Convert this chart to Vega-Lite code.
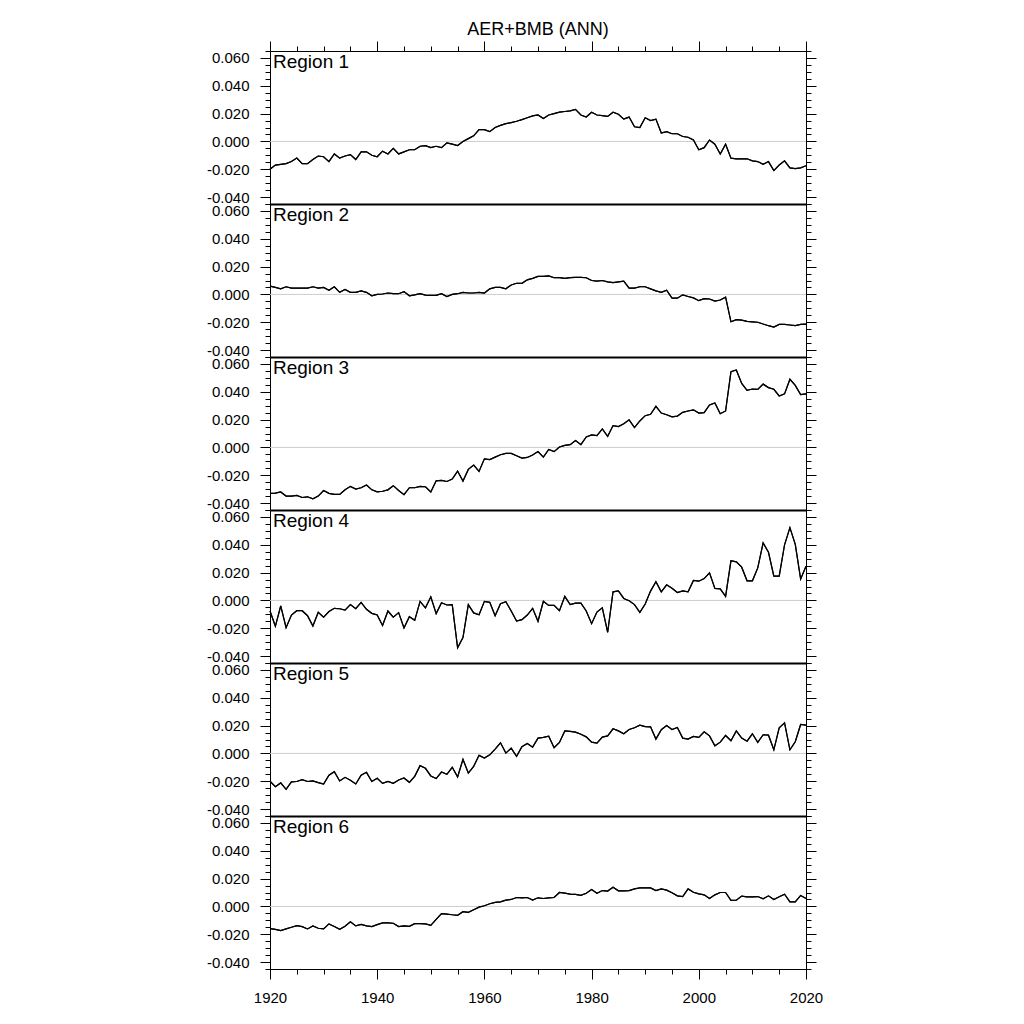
{
"$schema":"https://vega.github.io/schema/vega-lite/v6.json",
"padding":{"left":205,"top":20,"right":0,"bottom":0},
"spacing":0,
"bounds":"flush",
"config":{"font":"Liberation Sans","view":{"stroke":"#000","strokeWidth":1},"axis":{"grid":false,"tickColor":"#000","domainColor":"#000","labelColor":"#000","labelFont":"Liberation Sans","labelFontSize":15,"tickWidth":1,"title":null,"labelFlush":false,"labelOverlap":false,"labelBound":false}},
"datasets":{
"zero":[{"z":0}],
"r1":[{"year":1920,"value":-0.02},{"year":1921,"value":-0.017},{"year":1922,"value":-0.0165},{"year":1923,"value":-0.016},{"year":1924,"value":-0.0145},{"year":1925,"value":-0.012},{"year":1926,"value":-0.016},{"year":1927,"value":-0.016},{"year":1928,"value":-0.013},{"year":1929,"value":-0.0105},{"year":1930,"value":-0.011},{"year":1931,"value":-0.0145},{"year":1932,"value":-0.009},{"year":1933,"value":-0.012},{"year":1934,"value":-0.0105},{"year":1935,"value":-0.0095},{"year":1936,"value":-0.013},{"year":1937,"value":-0.0075},{"year":1938,"value":-0.0075},{"year":1939,"value":-0.01},{"year":1940,"value":-0.011},{"year":1941,"value":-0.007},{"year":1942,"value":-0.009},{"year":1943,"value":-0.005},{"year":1944,"value":-0.009},{"year":1945,"value":-0.0075},{"year":1946,"value":-0.006},{"year":1947,"value":-0.006},{"year":1948,"value":-0.0035},{"year":1949,"value":-0.003},{"year":1950,"value":-0.0045},{"year":1951,"value":-0.0035},{"year":1952,"value":-0.0045},{"year":1953,"value":-0.001},{"year":1954,"value":-0.002},{"year":1955,"value":-0.003},{"year":1956,"value":0.0},{"year":1957,"value":0.002},{"year":1958,"value":0.004},{"year":1959,"value":0.0085},{"year":1960,"value":0.0085},{"year":1961,"value":0.007},{"year":1962,"value":0.01},{"year":1963,"value":0.0115},{"year":1964,"value":0.0128},{"year":1965,"value":0.0135},{"year":1966,"value":0.0145},{"year":1967,"value":0.0157},{"year":1968,"value":0.017},{"year":1969,"value":0.0183},{"year":1970,"value":0.019},{"year":1971,"value":0.0165},{"year":1972,"value":0.019},{"year":1973,"value":0.02},{"year":1974,"value":0.021},{"year":1975,"value":0.0215},{"year":1976,"value":0.022},{"year":1977,"value":0.023},{"year":1978,"value":0.019},{"year":1979,"value":0.0175},{"year":1980,"value":0.021},{"year":1981,"value":0.019},{"year":1982,"value":0.0185},{"year":1983,"value":0.018},{"year":1984,"value":0.021},{"year":1985,"value":0.0195},{"year":1986,"value":0.016},{"year":1987,"value":0.0175},{"year":1988,"value":0.0105},{"year":1989,"value":0.01},{"year":1990,"value":0.017},{"year":1991,"value":0.015},{"year":1992,"value":0.016},{"year":1993,"value":0.006},{"year":1994,"value":0.007},{"year":1995,"value":0.0055},{"year":1996,"value":0.0055},{"year":1997,"value":0.0035},{"year":1998,"value":0.003},{"year":1999,"value":0.001},{"year":2000,"value":-0.006},{"year":2001,"value":-0.0045},{"year":2002,"value":0.001},{"year":2003,"value":-0.002},{"year":2004,"value":-0.009},{"year":2005,"value":-0.002},{"year":2006,"value":-0.012},{"year":2007,"value":-0.0125},{"year":2008,"value":-0.0125},{"year":2009,"value":-0.0125},{"year":2010,"value":-0.014},{"year":2011,"value":-0.0145},{"year":2012,"value":-0.0165},{"year":2013,"value":-0.0145},{"year":2014,"value":-0.021},{"year":2015,"value":-0.017},{"year":2016,"value":-0.014},{"year":2017,"value":-0.019},{"year":2018,"value":-0.0195},{"year":2019,"value":-0.019},{"year":2020,"value":-0.0175}],
"r2":[{"year":1920,"value":0.006},{"year":1921,"value":0.005},{"year":1922,"value":0.004},{"year":1923,"value":0.0055},{"year":1924,"value":0.0045},{"year":1925,"value":0.0045},{"year":1926,"value":0.0045},{"year":1927,"value":0.0045},{"year":1928,"value":0.0055},{"year":1929,"value":0.0045},{"year":1930,"value":0.005},{"year":1931,"value":0.003},{"year":1932,"value":0.0055},{"year":1933,"value":0.0015},{"year":1934,"value":0.0035},{"year":1935,"value":0.0015},{"year":1936,"value":0.0015},{"year":1937,"value":0.0025},{"year":1938,"value":0.0015},{"year":1939,"value":-0.001},{"year":1940,"value":0.0},{"year":1941,"value":0.0003},{"year":1942,"value":0.001},{"year":1943,"value":0.0005},{"year":1944,"value":0.0005},{"year":1945,"value":0.002},{"year":1946,"value":-0.001},{"year":1947,"value":-0.0003},{"year":1948,"value":0.0005},{"year":1949,"value":-0.0005},{"year":1950,"value":-0.0007},{"year":1951,"value":-0.0007},{"year":1952,"value":0.0005},{"year":1953,"value":-0.0015},{"year":1954,"value":0.0},{"year":1955,"value":0.0005},{"year":1956,"value":0.0015},{"year":1957,"value":0.001},{"year":1958,"value":0.001},{"year":1959,"value":0.0015},{"year":1960,"value":0.001},{"year":1961,"value":0.004},{"year":1962,"value":0.005},{"year":1963,"value":0.005},{"year":1964,"value":0.004},{"year":1965,"value":0.0068},{"year":1966,"value":0.008},{"year":1967,"value":0.008},{"year":1968,"value":0.0105},{"year":1969,"value":0.0115},{"year":1970,"value":0.013},{"year":1971,"value":0.013},{"year":1972,"value":0.0133},{"year":1973,"value":0.012},{"year":1974,"value":0.012},{"year":1975,"value":0.0115},{"year":1976,"value":0.012},{"year":1977,"value":0.0123},{"year":1978,"value":0.0123},{"year":1979,"value":0.012},{"year":1980,"value":0.01},{"year":1981,"value":0.0095},{"year":1982,"value":0.01},{"year":1983,"value":0.009},{"year":1984,"value":0.0085},{"year":1985,"value":0.009},{"year":1986,"value":0.0095},{"year":1987,"value":0.0045},{"year":1988,"value":0.0045},{"year":1989,"value":0.0055},{"year":1990,"value":0.0055},{"year":1991,"value":0.004},{"year":1992,"value":0.0025},{"year":1993,"value":0.0015},{"year":1994,"value":0.003},{"year":1995,"value":-0.0027},{"year":1996,"value":-0.0027},{"year":1997,"value":-0.0003},{"year":1998,"value":-0.0015},{"year":1999,"value":-0.0025},{"year":2000,"value":-0.0045},{"year":2001,"value":-0.003},{"year":2002,"value":-0.0033},{"year":2003,"value":-0.0048},{"year":2004,"value":-0.004},{"year":2005,"value":-0.002},{"year":2006,"value":-0.0197},{"year":2007,"value":-0.0182},{"year":2008,"value":-0.0185},{"year":2009,"value":-0.0194},{"year":2010,"value":-0.0197},{"year":2011,"value":-0.02},{"year":2012,"value":-0.0213},{"year":2013,"value":-0.0225},{"year":2014,"value":-0.0235},{"year":2015,"value":-0.0216},{"year":2016,"value":-0.0216},{"year":2017,"value":-0.022},{"year":2018,"value":-0.0225},{"year":2019,"value":-0.0216},{"year":2020,"value":-0.0213}],
"r3":[{"year":1920,"value":-0.033},{"year":1921,"value":-0.0328},{"year":1922,"value":-0.032},{"year":1923,"value":-0.035},{"year":1924,"value":-0.035},{"year":1925,"value":-0.0345},{"year":1926,"value":-0.036},{"year":1927,"value":-0.0355},{"year":1928,"value":-0.037},{"year":1929,"value":-0.035},{"year":1930,"value":-0.031},{"year":1931,"value":-0.033},{"year":1932,"value":-0.0338},{"year":1933,"value":-0.0338},{"year":1934,"value":-0.0305},{"year":1935,"value":-0.028},{"year":1936,"value":-0.03},{"year":1937,"value":-0.029},{"year":1938,"value":-0.027},{"year":1939,"value":-0.0305},{"year":1940,"value":-0.032},{"year":1941,"value":-0.0315},{"year":1942,"value":-0.0305},{"year":1943,"value":-0.0275},{"year":1944,"value":-0.031},{"year":1945,"value":-0.034},{"year":1946,"value":-0.029},{"year":1947,"value":-0.029},{"year":1948,"value":-0.028},{"year":1949,"value":-0.0283},{"year":1950,"value":-0.032},{"year":1951,"value":-0.024},{"year":1952,"value":-0.0237},{"year":1953,"value":-0.0245},{"year":1954,"value":-0.0227},{"year":1955,"value":-0.017},{"year":1956,"value":-0.0242},{"year":1957,"value":-0.0158},{"year":1958,"value":-0.0127},{"year":1959,"value":-0.0173},{"year":1960,"value":-0.0082},{"year":1961,"value":-0.0087},{"year":1962,"value":-0.007},{"year":1963,"value":-0.0053},{"year":1964,"value":-0.0043},{"year":1965,"value":-0.0043},{"year":1966,"value":-0.006},{"year":1967,"value":-0.0077},{"year":1968,"value":-0.0072},{"year":1969,"value":-0.0055},{"year":1970,"value":-0.003},{"year":1971,"value":-0.007},{"year":1972,"value":-0.0015},{"year":1973,"value":-0.003},{"year":1974,"value":0.0003},{"year":1975,"value":0.0015},{"year":1976,"value":0.002},{"year":1977,"value":0.005},{"year":1978,"value":0.002},{"year":1979,"value":0.0075},{"year":1980,"value":0.009},{"year":1981,"value":0.0085},{"year":1982,"value":0.0133},{"year":1983,"value":0.008},{"year":1984,"value":0.0157},{"year":1985,"value":0.015},{"year":1986,"value":0.017},{"year":1987,"value":0.0198},{"year":1988,"value":0.0143},{"year":1989,"value":0.019},{"year":1990,"value":0.0228},{"year":1991,"value":0.0238},{"year":1992,"value":0.0295},{"year":1993,"value":0.0247},{"year":1994,"value":0.0235},{"year":1995,"value":0.022},{"year":1996,"value":0.0225},{"year":1997,"value":0.0252},{"year":1998,"value":0.0262},{"year":1999,"value":0.027},{"year":2000,"value":0.0247},{"year":2001,"value":0.025},{"year":2002,"value":0.0305},{"year":2003,"value":0.032},{"year":2004,"value":0.0242},{"year":2005,"value":0.0262},{"year":2006,"value":0.0545},{"year":2007,"value":0.0557},{"year":2008,"value":0.046},{"year":2009,"value":0.041},{"year":2010,"value":0.042},{"year":2011,"value":0.0417},{"year":2012,"value":0.0455},{"year":2013,"value":0.043},{"year":2014,"value":0.0418},{"year":2015,"value":0.037},{"year":2016,"value":0.0385},{"year":2017,"value":0.049},{"year":2018,"value":0.0446},{"year":2019,"value":0.038},{"year":2020,"value":0.0385}],
"r4":[{"year":1920,"value":-0.0076},{"year":1921,"value":-0.0186},{"year":1922,"value":-0.004},{"year":1923,"value":-0.0196},{"year":1924,"value":-0.0105},{"year":1925,"value":-0.0074},{"year":1926,"value":-0.0074},{"year":1927,"value":-0.011},{"year":1928,"value":-0.0184},{"year":1929,"value":-0.0086},{"year":1930,"value":-0.012},{"year":1931,"value":-0.008},{"year":1932,"value":-0.0057},{"year":1933,"value":-0.006},{"year":1934,"value":-0.007},{"year":1935,"value":-0.003},{"year":1936,"value":-0.006},{"year":1937,"value":-0.0014},{"year":1938,"value":-0.0064},{"year":1939,"value":-0.0093},{"year":1940,"value":-0.0105},{"year":1941,"value":-0.018},{"year":1942,"value":-0.0076},{"year":1943,"value":-0.012},{"year":1944,"value":-0.0088},{"year":1945,"value":-0.0198},{"year":1946,"value":-0.0117},{"year":1947,"value":-0.0143},{"year":1948,"value":-0.0007},{"year":1949,"value":-0.0053},{"year":1950,"value":0.0026},{"year":1951,"value":-0.0095},{"year":1952,"value":-0.0017},{"year":1953,"value":-0.0033},{"year":1954,"value":-0.003},{"year":1955,"value":-0.034},{"year":1956,"value":-0.0267},{"year":1957,"value":-0.003},{"year":1958,"value":-0.009},{"year":1959,"value":-0.0103},{"year":1960,"value":-0.0007},{"year":1961,"value":-0.0014},{"year":1962,"value":-0.011},{"year":1963,"value":-0.0024},{"year":1964,"value":-0.001},{"year":1965,"value":-0.0076},{"year":1966,"value":-0.0148},{"year":1967,"value":-0.0138},{"year":1968,"value":-0.0105},{"year":1969,"value":-0.0057},{"year":1970,"value":-0.015},{"year":1971,"value":-0.0007},{"year":1972,"value":-0.0036},{"year":1973,"value":-0.0036},{"year":1974,"value":-0.0074},{"year":1975,"value":0.0029},{"year":1976,"value":-0.003},{"year":1977,"value":-0.0019},{"year":1978,"value":-0.0019},{"year":1979,"value":-0.0076},{"year":1980,"value":-0.0167},{"year":1981,"value":-0.0084},{"year":1982,"value":-0.0053},{"year":1983,"value":-0.0229},{"year":1984,"value":0.0062},{"year":1985,"value":0.0069},{"year":1986,"value":0.0014},{"year":1987,"value":-0.0002},{"year":1988,"value":-0.003},{"year":1989,"value":-0.0086},{"year":1990,"value":-0.0026},{"year":1991,"value":0.0067},{"year":1992,"value":0.0134},{"year":1993,"value":0.0062},{"year":1994,"value":0.0112},{"year":1995,"value":0.0088},{"year":1996,"value":0.0057},{"year":1997,"value":0.0069},{"year":1998,"value":0.0062},{"year":1999,"value":0.0143},{"year":2000,"value":0.0138},{"year":2001,"value":0.0157},{"year":2002,"value":0.0198},{"year":2003,"value":0.0086},{"year":2004,"value":0.0083},{"year":2005,"value":0.0029},{"year":2006,"value":0.0286},{"year":2007,"value":0.0277},{"year":2008,"value":0.0239},{"year":2009,"value":0.0141},{"year":2010,"value":0.0141},{"year":2011,"value":0.0234},{"year":2012,"value":0.0413},{"year":2013,"value":0.0346},{"year":2014,"value":0.0174},{"year":2015,"value":0.0174},{"year":2016,"value":0.04},{"year":2017,"value":0.0523},{"year":2018,"value":0.0403},{"year":2019,"value":0.0153},{"year":2020,"value":0.0246}],
"r5":[{"year":1920,"value":-0.02},{"year":1921,"value":-0.024},{"year":1922,"value":-0.0212},{"year":1923,"value":-0.0258},{"year":1924,"value":-0.0205},{"year":1925,"value":-0.0202},{"year":1926,"value":-0.0189},{"year":1927,"value":-0.0202},{"year":1928,"value":-0.0198},{"year":1929,"value":-0.021},{"year":1930,"value":-0.022},{"year":1931,"value":-0.0157},{"year":1932,"value":-0.0131},{"year":1933,"value":-0.0198},{"year":1934,"value":-0.0172},{"year":1935,"value":-0.0193},{"year":1936,"value":-0.022},{"year":1937,"value":-0.0157},{"year":1938,"value":-0.0136},{"year":1939,"value":-0.0202},{"year":1940,"value":-0.0179},{"year":1941,"value":-0.0215},{"year":1942,"value":-0.0202},{"year":1943,"value":-0.0215},{"year":1944,"value":-0.0191},{"year":1945,"value":-0.0177},{"year":1946,"value":-0.0208},{"year":1947,"value":-0.0165},{"year":1948,"value":-0.0088},{"year":1949,"value":-0.0107},{"year":1950,"value":-0.0162},{"year":1951,"value":-0.0181},{"year":1952,"value":-0.0134},{"year":1953,"value":-0.015},{"year":1954,"value":-0.01},{"year":1955,"value":-0.0169},{"year":1956,"value":-0.0043},{"year":1957,"value":-0.0141},{"year":1958,"value":-0.0093},{"year":1959,"value":-0.0014},{"year":1960,"value":-0.0033},{"year":1961,"value":-0.001},{"year":1962,"value":0.0031},{"year":1963,"value":0.0076},{"year":1964,"value":0.0002},{"year":1965,"value":0.0038},{"year":1966,"value":-0.0021},{"year":1967,"value":0.0048},{"year":1968,"value":0.0072},{"year":1969,"value":0.0045},{"year":1970,"value":0.011},{"year":1971,"value":0.0115},{"year":1972,"value":0.0124},{"year":1973,"value":0.0041},{"year":1974,"value":0.0079},{"year":1975,"value":0.0162},{"year":1976,"value":0.0158},{"year":1977,"value":0.0153},{"year":1978,"value":0.0138},{"year":1979,"value":0.0119},{"year":1980,"value":0.0081},{"year":1981,"value":0.0074},{"year":1982,"value":0.0117},{"year":1983,"value":0.0126},{"year":1984,"value":0.0177},{"year":1985,"value":0.0162},{"year":1986,"value":0.0141},{"year":1987,"value":0.0172},{"year":1988,"value":0.0184},{"year":1989,"value":0.0203},{"year":1990,"value":0.0193},{"year":1991,"value":0.0191},{"year":1992,"value":0.0103},{"year":1993,"value":0.017},{"year":1994,"value":0.02},{"year":1995,"value":0.0172},{"year":1996,"value":0.0186},{"year":1997,"value":0.011},{"year":1998,"value":0.0103},{"year":1999,"value":0.0122},{"year":2000,"value":0.0115},{"year":2001,"value":0.0155},{"year":2002,"value":0.0126},{"year":2003,"value":0.0055},{"year":2004,"value":0.0081},{"year":2005,"value":0.0129},{"year":2006,"value":0.0091},{"year":2007,"value":0.0162},{"year":2008,"value":0.011},{"year":2009,"value":0.0088},{"year":2010,"value":0.0141},{"year":2011,"value":0.0079},{"year":2012,"value":0.0134},{"year":2013,"value":0.0131},{"year":2014,"value":0.0026},{"year":2015,"value":0.0184},{"year":2016,"value":0.022},{"year":2017,"value":0.0026},{"year":2018,"value":0.0084},{"year":2019,"value":0.0208},{"year":2020,"value":0.0203}],
"r6":[{"year":1920,"value":-0.016},{"year":1921,"value":-0.0165},{"year":1922,"value":-0.0174},{"year":1923,"value":-0.0162},{"year":1924,"value":-0.015},{"year":1925,"value":-0.0138},{"year":1926,"value":-0.0145},{"year":1927,"value":-0.0162},{"year":1928,"value":-0.014},{"year":1929,"value":-0.0157},{"year":1930,"value":-0.0162},{"year":1931,"value":-0.0126},{"year":1932,"value":-0.0145},{"year":1933,"value":-0.0164},{"year":1934,"value":-0.0143},{"year":1935,"value":-0.011},{"year":1936,"value":-0.014},{"year":1937,"value":-0.0129},{"year":1938,"value":-0.014},{"year":1939,"value":-0.0145},{"year":1940,"value":-0.0131},{"year":1941,"value":-0.0119},{"year":1942,"value":-0.0119},{"year":1943,"value":-0.0121},{"year":1944,"value":-0.0145},{"year":1945,"value":-0.014},{"year":1946,"value":-0.0143},{"year":1947,"value":-0.0124},{"year":1948,"value":-0.0124},{"year":1949,"value":-0.0126},{"year":1950,"value":-0.0136},{"year":1951,"value":-0.0093},{"year":1952,"value":-0.0052},{"year":1953,"value":-0.0055},{"year":1954,"value":-0.006},{"year":1955,"value":-0.0064},{"year":1956,"value":-0.0038},{"year":1957,"value":-0.0043},{"year":1958,"value":-0.0024},{"year":1959,"value":-0.0005},{"year":1960,"value":0.0005},{"year":1961,"value":0.0019},{"year":1962,"value":0.0029},{"year":1963,"value":0.0033},{"year":1964,"value":0.0045},{"year":1965,"value":0.005},{"year":1966,"value":0.0064},{"year":1967,"value":0.0062},{"year":1968,"value":0.0064},{"year":1969,"value":0.0045},{"year":1970,"value":0.0062},{"year":1971,"value":0.0057},{"year":1972,"value":0.0062},{"year":1973,"value":0.0064},{"year":1974,"value":0.01},{"year":1975,"value":0.0095},{"year":1976,"value":0.0088},{"year":1977,"value":0.0086},{"year":1978,"value":0.0079},{"year":1979,"value":0.0095},{"year":1980,"value":0.0121},{"year":1981,"value":0.0095},{"year":1982,"value":0.0114},{"year":1983,"value":0.011},{"year":1984,"value":0.0138},{"year":1985,"value":0.0112},{"year":1986,"value":0.0112},{"year":1987,"value":0.0114},{"year":1988,"value":0.0126},{"year":1989,"value":0.0133},{"year":1990,"value":0.0133},{"year":1991,"value":0.0133},{"year":1992,"value":0.0114},{"year":1993,"value":0.0126},{"year":1994,"value":0.0117},{"year":1995,"value":0.0098},{"year":1996,"value":0.0076},{"year":1997,"value":0.0071},{"year":1998,"value":0.0126},{"year":1999,"value":0.0102},{"year":2000,"value":0.009},{"year":2001,"value":0.0083},{"year":2002,"value":0.0057},{"year":2003,"value":0.0083},{"year":2004,"value":0.01},{"year":2005,"value":0.01},{"year":2006,"value":0.0043},{"year":2007,"value":0.0045},{"year":2008,"value":0.0074},{"year":2009,"value":0.0069},{"year":2010,"value":0.0069},{"year":2011,"value":0.0071},{"year":2012,"value":0.0055},{"year":2013,"value":0.0076},{"year":2014,"value":0.005},{"year":2015,"value":0.0069},{"year":2016,"value":0.0088},{"year":2017,"value":0.0033},{"year":2018,"value":0.0033},{"year":2019,"value":0.0079},{"year":2020,"value":0.0057}]
},
"vconcat":[
{"width":536,"height":153,"title":{"text":"AER+BMB (ANN)","fontSize":18,"fontWeight":"normal","font":"Liberation Sans","offset":2},
"resolve":{"axis":{"x":"independent","y":"independent"}},
"layer":[
{"data":{"name":"zero"},"mark":{"type":"rule","color":"#cccccc","strokeWidth":1},"encoding":{"y":{"field":"z","type":"quantitative","scale":{"domain":[-0.045,0.065],"nice":false,"zero":false},"axis":{"orient":"right","values":[-0.04,-0.02,0,0.02,0.04,0.06],"labels":false,"domain":false,"tickSize":10}}}},
{"data":{"name":"r1"},"mark":{"type":"line","color":"#000","strokeWidth":1.2},"encoding":{"x":{"field":"year","type":"quantitative","scale":{"domain":[1920,2020],"nice":false,"zero":false},"axis":{"orient":"top","values":[1920,1940,1960,1980,2000,2020],"labels":false,"domain":false,"tickSize":10}},"y":{"field":"value","type":"quantitative","scale":{"domain":[-0.045,0.065],"nice":false,"zero":false},"axis":{"orient":"left","values":[-0.04,-0.02,0,0.02,0.04,0.06],"format":".3f","labelExpr":"replace(datum.label, '−', '-')","domain":false,"tickSize":10,"labelPadding":11}}}},
{"data":{"name":"r1"},"mark":{"type":"line","color":"#000","strokeWidth":1.2},"encoding":{"x":{"field":"year","type":"quantitative","axis":{"orient":"top","values":[1925,1930,1935,1945,1950,1955,1965,1970,1975,1985,1990,1995,2005,2010,2015],"labels":false,"domain":false,"tickSize":5}},"y":{"field":"value","type":"quantitative","axis":{"orient":"left","values":[-0.045,-0.035,-0.03,-0.025,-0.015,-0.01,-0.005,0.005,0.01,0.015,0.025,0.03,0.035,0.045,0.05,0.055,0.065],"labels":false,"domain":false,"tickSize":5}}}},
{"data":{"name":"zero"},"mark":{"type":"text","text":"Region 1","align":"left","baseline":"top","fontSize":19,"font":"Liberation Sans","dx":3,"dy":2},"encoding":{"x":{"datum":1920,"type":"quantitative","axis":null},"y":{"datum":0.065,"type":"quantitative","axis":{"orient":"right","values":[-0.045,-0.035,-0.03,-0.025,-0.015,-0.01,-0.005,0.005,0.01,0.015,0.025,0.03,0.035,0.045,0.05,0.055,0.065],"labels":false,"domain":false,"tickSize":5}}}}
]},
{"width":536,"height":153,
"resolve":{"axis":{"x":"independent","y":"independent"}},
"layer":[
{"data":{"name":"zero"},"mark":{"type":"rule","color":"#cccccc","strokeWidth":1},"encoding":{"y":{"field":"z","type":"quantitative","scale":{"domain":[-0.045,0.065],"nice":false,"zero":false},"axis":{"orient":"right","values":[-0.04,-0.02,0,0.02,0.04,0.06],"labels":false,"domain":false,"tickSize":10}}}},
{"data":{"name":"r2"},"mark":{"type":"line","color":"#000","strokeWidth":1.2},"encoding":{"x":{"field":"year","type":"quantitative","scale":{"domain":[1920,2020],"nice":false,"zero":false},"axis":{"orient":"top","labels":false,"ticks":false,"domain":true,"domainWidth":2}},"y":{"field":"value","type":"quantitative","scale":{"domain":[-0.045,0.065],"nice":false,"zero":false},"axis":{"orient":"left","values":[-0.04,-0.02,0,0.02,0.04,0.06],"format":".3f","labelExpr":"replace(datum.label, '−', '-')","domain":false,"tickSize":10,"labelPadding":11}}}},
{"data":{"name":"r2"},"mark":{"type":"line","color":"#000","strokeWidth":1.2},"encoding":{"x":{"field":"year","type":"quantitative","axis":null},"y":{"field":"value","type":"quantitative","axis":{"orient":"left","values":[-0.045,-0.035,-0.03,-0.025,-0.015,-0.01,-0.005,0.005,0.01,0.015,0.025,0.03,0.035,0.045,0.05,0.055,0.065],"labels":false,"domain":false,"tickSize":5}}}},
{"data":{"name":"zero"},"mark":{"type":"text","text":"Region 2","align":"left","baseline":"top","fontSize":19,"font":"Liberation Sans","dx":3,"dy":2},"encoding":{"x":{"datum":1920,"type":"quantitative","axis":null},"y":{"datum":0.065,"type":"quantitative","axis":{"orient":"right","values":[-0.045,-0.035,-0.03,-0.025,-0.015,-0.01,-0.005,0.005,0.01,0.015,0.025,0.03,0.035,0.045,0.05,0.055,0.065],"labels":false,"domain":false,"tickSize":5}}}}
]},
{"width":536,"height":153,
"resolve":{"axis":{"x":"independent","y":"independent"}},
"layer":[
{"data":{"name":"zero"},"mark":{"type":"rule","color":"#cccccc","strokeWidth":1},"encoding":{"y":{"field":"z","type":"quantitative","scale":{"domain":[-0.045,0.065],"nice":false,"zero":false},"axis":{"orient":"right","values":[-0.04,-0.02,0,0.02,0.04,0.06],"labels":false,"domain":false,"tickSize":10}}}},
{"data":{"name":"r3"},"mark":{"type":"line","color":"#000","strokeWidth":1.2},"encoding":{"x":{"field":"year","type":"quantitative","scale":{"domain":[1920,2020],"nice":false,"zero":false},"axis":{"orient":"top","labels":false,"ticks":false,"domain":true,"domainWidth":2}},"y":{"field":"value","type":"quantitative","scale":{"domain":[-0.045,0.065],"nice":false,"zero":false},"axis":{"orient":"left","values":[-0.04,-0.02,0,0.02,0.04,0.06],"format":".3f","labelExpr":"replace(datum.label, '−', '-')","domain":false,"tickSize":10,"labelPadding":11}}}},
{"data":{"name":"r3"},"mark":{"type":"line","color":"#000","strokeWidth":1.2},"encoding":{"x":{"field":"year","type":"quantitative","axis":null},"y":{"field":"value","type":"quantitative","axis":{"orient":"left","values":[-0.045,-0.035,-0.03,-0.025,-0.015,-0.01,-0.005,0.005,0.01,0.015,0.025,0.03,0.035,0.045,0.05,0.055,0.065],"labels":false,"domain":false,"tickSize":5}}}},
{"data":{"name":"zero"},"mark":{"type":"text","text":"Region 3","align":"left","baseline":"top","fontSize":19,"font":"Liberation Sans","dx":3,"dy":2},"encoding":{"x":{"datum":1920,"type":"quantitative","axis":null},"y":{"datum":0.065,"type":"quantitative","axis":{"orient":"right","values":[-0.045,-0.035,-0.03,-0.025,-0.015,-0.01,-0.005,0.005,0.01,0.015,0.025,0.03,0.035,0.045,0.05,0.055,0.065],"labels":false,"domain":false,"tickSize":5}}}}
]},
{"width":536,"height":153,
"resolve":{"axis":{"x":"independent","y":"independent"}},
"layer":[
{"data":{"name":"zero"},"mark":{"type":"rule","color":"#cccccc","strokeWidth":1},"encoding":{"y":{"field":"z","type":"quantitative","scale":{"domain":[-0.045,0.065],"nice":false,"zero":false},"axis":{"orient":"right","values":[-0.04,-0.02,0,0.02,0.04,0.06],"labels":false,"domain":false,"tickSize":10}}}},
{"data":{"name":"r4"},"mark":{"type":"line","color":"#000","strokeWidth":1.2},"encoding":{"x":{"field":"year","type":"quantitative","scale":{"domain":[1920,2020],"nice":false,"zero":false},"axis":{"orient":"top","labels":false,"ticks":false,"domain":true,"domainWidth":2}},"y":{"field":"value","type":"quantitative","scale":{"domain":[-0.045,0.065],"nice":false,"zero":false},"axis":{"orient":"left","values":[-0.04,-0.02,0,0.02,0.04,0.06],"format":".3f","labelExpr":"replace(datum.label, '−', '-')","domain":false,"tickSize":10,"labelPadding":11}}}},
{"data":{"name":"r4"},"mark":{"type":"line","color":"#000","strokeWidth":1.2},"encoding":{"x":{"field":"year","type":"quantitative","axis":null},"y":{"field":"value","type":"quantitative","axis":{"orient":"left","values":[-0.045,-0.035,-0.03,-0.025,-0.015,-0.01,-0.005,0.005,0.01,0.015,0.025,0.03,0.035,0.045,0.05,0.055,0.065],"labels":false,"domain":false,"tickSize":5}}}},
{"data":{"name":"zero"},"mark":{"type":"text","text":"Region 4","align":"left","baseline":"top","fontSize":19,"font":"Liberation Sans","dx":3,"dy":2},"encoding":{"x":{"datum":1920,"type":"quantitative","axis":null},"y":{"datum":0.065,"type":"quantitative","axis":{"orient":"right","values":[-0.045,-0.035,-0.03,-0.025,-0.015,-0.01,-0.005,0.005,0.01,0.015,0.025,0.03,0.035,0.045,0.05,0.055,0.065],"labels":false,"domain":false,"tickSize":5}}}}
]},
{"width":536,"height":153,
"resolve":{"axis":{"x":"independent","y":"independent"}},
"layer":[
{"data":{"name":"zero"},"mark":{"type":"rule","color":"#cccccc","strokeWidth":1},"encoding":{"y":{"field":"z","type":"quantitative","scale":{"domain":[-0.045,0.065],"nice":false,"zero":false},"axis":{"orient":"right","values":[-0.04,-0.02,0,0.02,0.04,0.06],"labels":false,"domain":false,"tickSize":10}}}},
{"data":{"name":"r5"},"mark":{"type":"line","color":"#000","strokeWidth":1.2},"encoding":{"x":{"field":"year","type":"quantitative","scale":{"domain":[1920,2020],"nice":false,"zero":false},"axis":{"orient":"top","labels":false,"ticks":false,"domain":true,"domainWidth":2}},"y":{"field":"value","type":"quantitative","scale":{"domain":[-0.045,0.065],"nice":false,"zero":false},"axis":{"orient":"left","values":[-0.04,-0.02,0,0.02,0.04,0.06],"format":".3f","labelExpr":"replace(datum.label, '−', '-')","domain":false,"tickSize":10,"labelPadding":11}}}},
{"data":{"name":"r5"},"mark":{"type":"line","color":"#000","strokeWidth":1.2},"encoding":{"x":{"field":"year","type":"quantitative","axis":null},"y":{"field":"value","type":"quantitative","axis":{"orient":"left","values":[-0.045,-0.035,-0.03,-0.025,-0.015,-0.01,-0.005,0.005,0.01,0.015,0.025,0.03,0.035,0.045,0.05,0.055,0.065],"labels":false,"domain":false,"tickSize":5}}}},
{"data":{"name":"zero"},"mark":{"type":"text","text":"Region 5","align":"left","baseline":"top","fontSize":19,"font":"Liberation Sans","dx":3,"dy":2},"encoding":{"x":{"datum":1920,"type":"quantitative","axis":null},"y":{"datum":0.065,"type":"quantitative","axis":{"orient":"right","values":[-0.045,-0.035,-0.03,-0.025,-0.015,-0.01,-0.005,0.005,0.01,0.015,0.025,0.03,0.035,0.045,0.05,0.055,0.065],"labels":false,"domain":false,"tickSize":5}}}}
]},
{"width":536,"height":153,
"resolve":{"axis":{"x":"independent","y":"independent"}},
"layer":[
{"data":{"name":"zero"},"mark":{"type":"rule","color":"#cccccc","strokeWidth":1},"encoding":{"y":{"field":"z","type":"quantitative","scale":{"domain":[-0.045,0.065],"nice":false,"zero":false},"axis":{"orient":"right","values":[-0.04,-0.02,0,0.02,0.04,0.06],"labels":false,"domain":false,"tickSize":10}}}},
{"data":{"name":"r6"},"mark":{"type":"line","color":"#000","strokeWidth":1.2},"encoding":{"x":{"field":"year","type":"quantitative","scale":{"domain":[1920,2020],"nice":false,"zero":false},"axis":{"orient":"bottom","values":[1920,1940,1960,1980,2000,2020],"format":"d","domain":false,"tickSize":10,"labelPadding":11}},"y":{"field":"value","type":"quantitative","scale":{"domain":[-0.045,0.065],"nice":false,"zero":false},"axis":{"orient":"left","values":[-0.04,-0.02,0,0.02,0.04,0.06],"format":".3f","labelExpr":"replace(datum.label, '−', '-')","domain":false,"tickSize":10,"labelPadding":11}}}},
{"data":{"name":"r6"},"mark":{"type":"line","color":"#000","strokeWidth":1.2},"encoding":{"x":{"field":"year","type":"quantitative","axis":{"orient":"bottom","values":[1925,1930,1935,1945,1950,1955,1965,1970,1975,1985,1990,1995,2005,2010,2015],"labels":false,"domain":false,"tickSize":5}},"y":{"field":"value","type":"quantitative","axis":{"orient":"left","values":[-0.045,-0.035,-0.03,-0.025,-0.015,-0.01,-0.005,0.005,0.01,0.015,0.025,0.03,0.035,0.045,0.05,0.055,0.065],"labels":false,"domain":false,"tickSize":5}}}},
{"data":{"name":"zero"},"mark":{"type":"text","text":"Region 6","align":"left","baseline":"top","fontSize":19,"font":"Liberation Sans","dx":3,"dy":2},"encoding":{"x":{"datum":1920,"type":"quantitative","axis":{"orient":"top","labels":false,"ticks":false,"domain":true,"domainWidth":2}},"y":{"datum":0.065,"type":"quantitative","axis":{"orient":"right","values":[-0.045,-0.035,-0.03,-0.025,-0.015,-0.01,-0.005,0.005,0.01,0.015,0.025,0.03,0.035,0.045,0.05,0.055,0.065],"labels":false,"domain":false,"tickSize":5}}}}
]}
]
}
